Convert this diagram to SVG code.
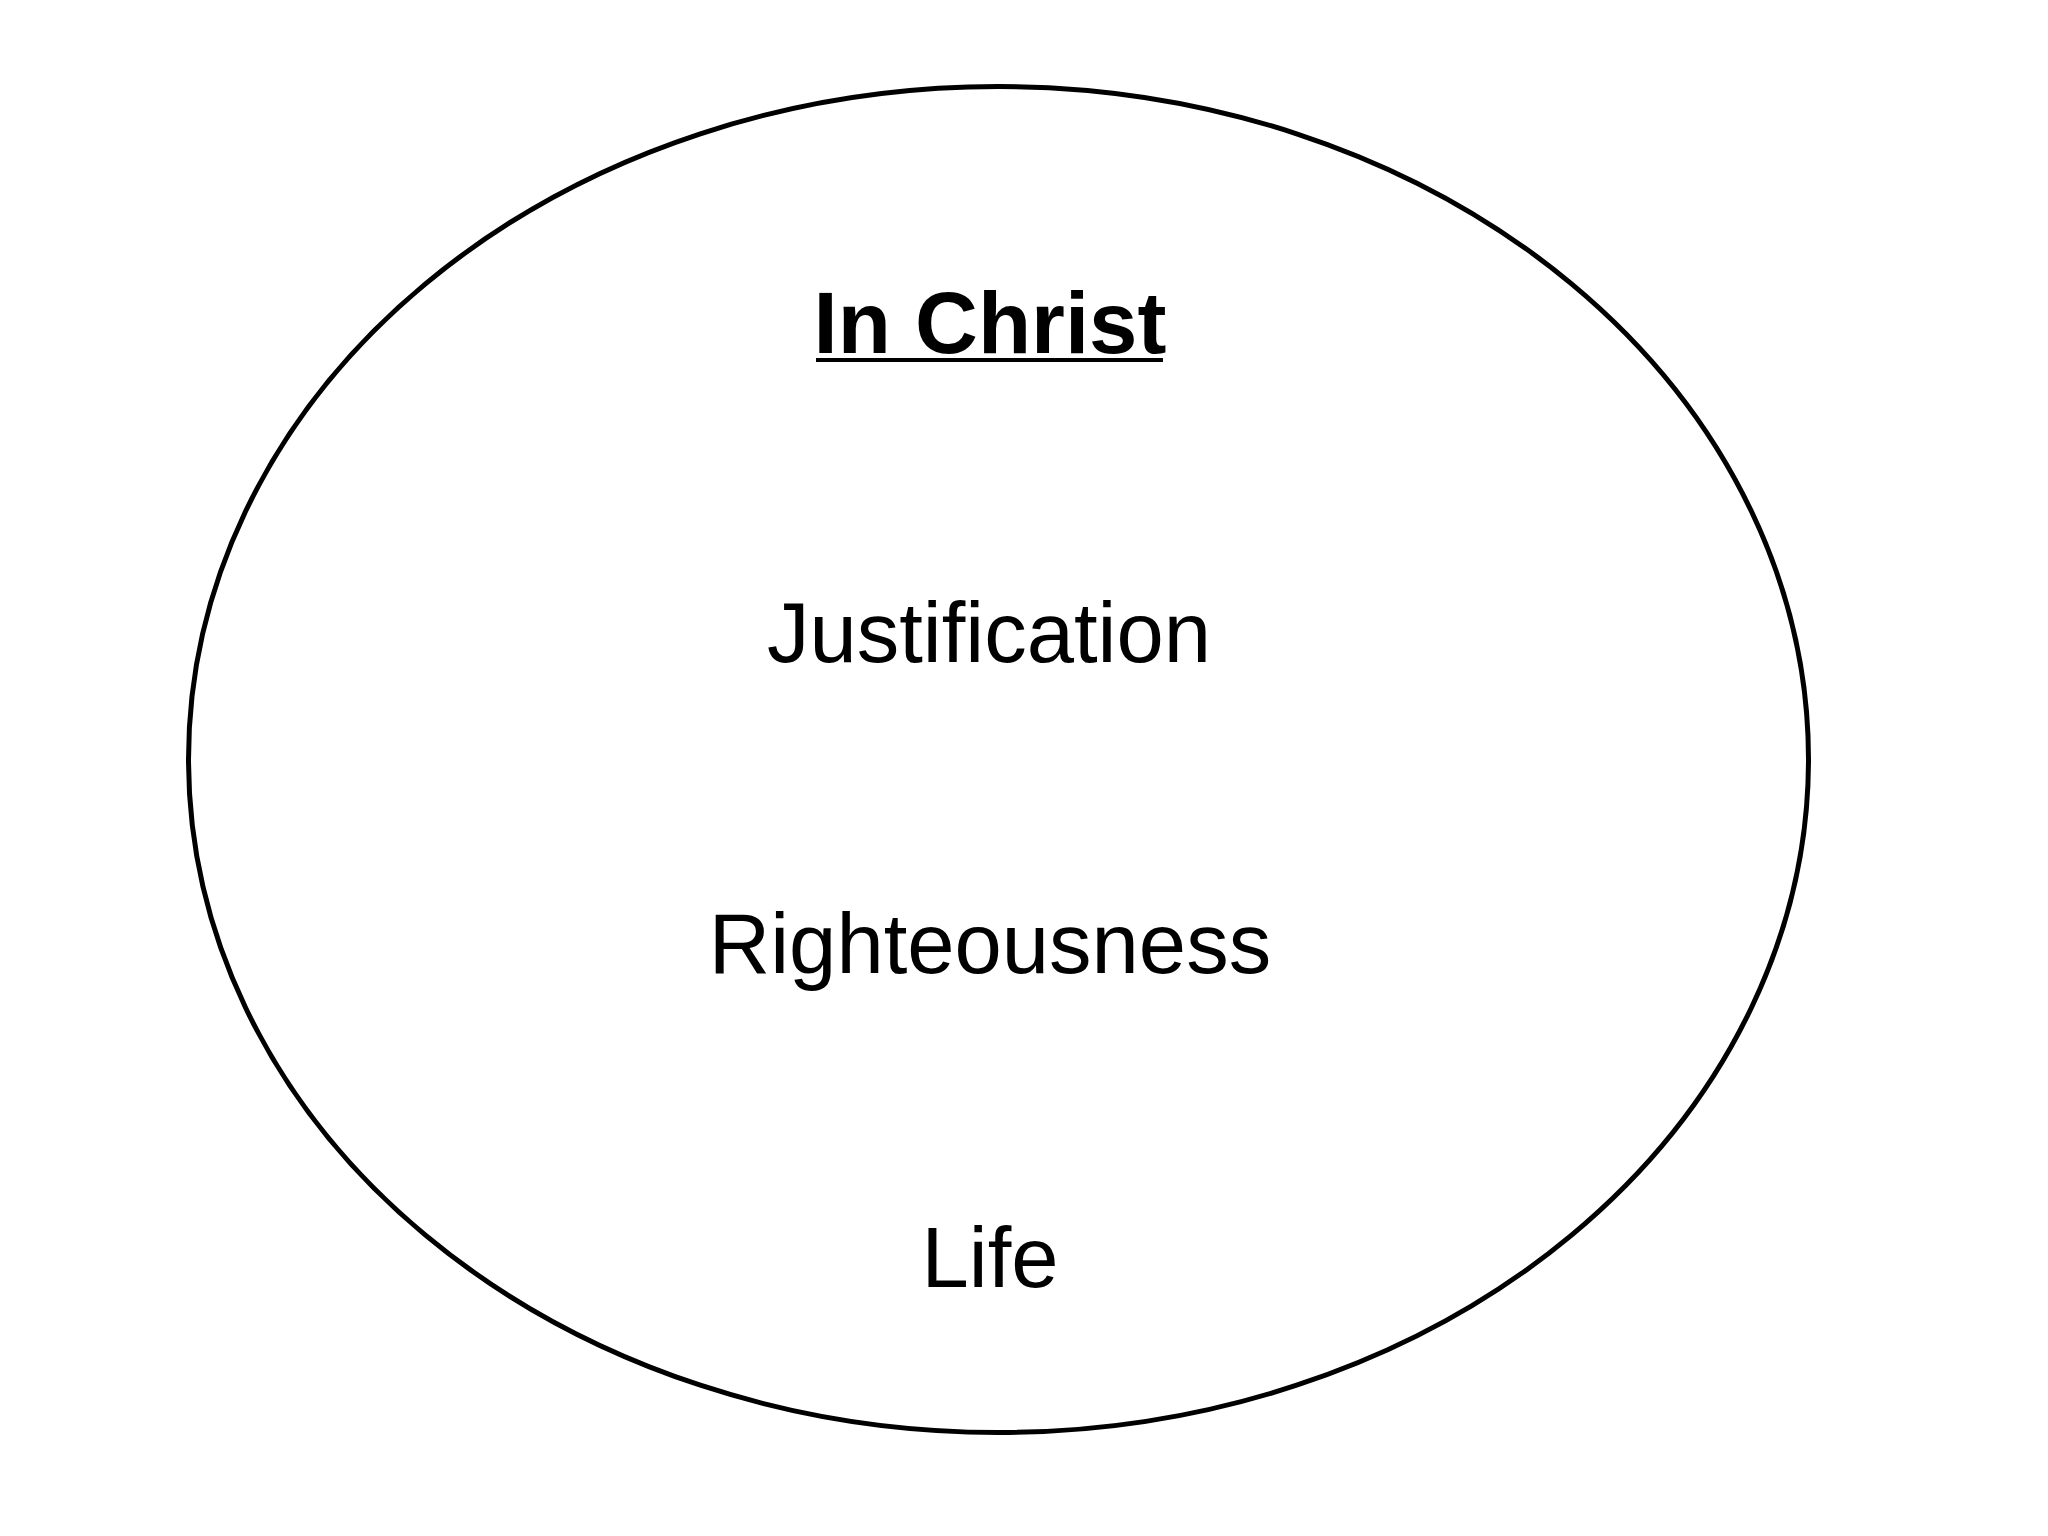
<svg xmlns="http://www.w3.org/2000/svg" width="2048" height="1536" viewBox="0 0 2048 1536">
<style>
.t{font-family:"Liberation Sans",Arial,sans-serif;font-size:85px;fill:#000;text-anchor:middle}
.h{font-weight:bold;font-size:87px}
</style>
<rect width="2048" height="1536" fill="#fff"/>
<g id="circle"><ellipse cx="998.5" cy="759.5" rx="810" ry="673" fill="none" stroke="#000" stroke-width="5"/></g>
<g id="title"><text class="t h" x="990" y="353">In Christ</text><line x1="816" y1="360" x2="1163" y2="360" stroke="#000" stroke-width="4"/></g>
<g id="justification"><text class="t" x="989" y="662">Justification</text></g>
<g id="righteousness"><text class="t" x="990" y="973">Righteousness</text></g>
<g id="life"><text class="t" x="990" y="1287">Life</text></g>
<g id="connectors"/>
</svg>
